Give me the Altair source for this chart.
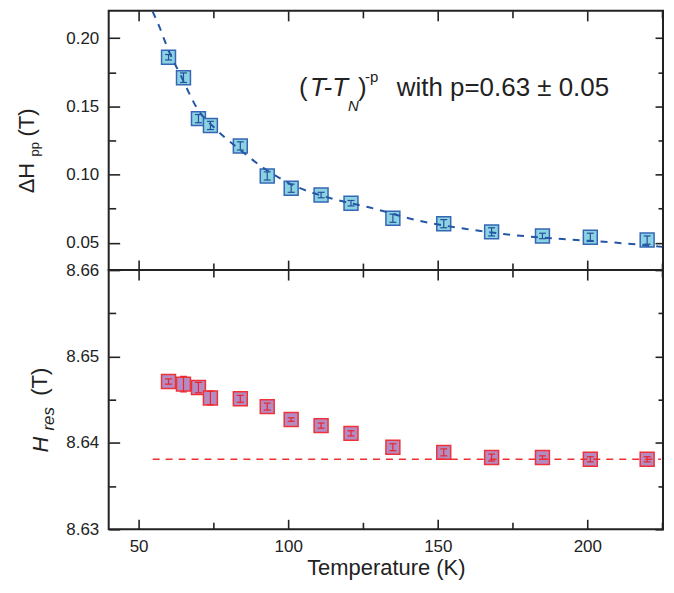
import altair as alt
import pandas as pd

FONT = "Liberation Sans"
INK = "#222222"

# ---------------- data ----------------
temperature = [60, 65, 70, 74, 84, 93, 101, 111, 121, 135, 152, 168, 185, 201, 220]
dhpp = [0.186, 0.171, 0.141, 0.136, 0.121, 0.099, 0.090, 0.085, 0.079, 0.068,
        0.064, 0.058, 0.055, 0.054, 0.052]
dhpp_err = [0.002, 0.0035, 0.003, 0.003, 0.003, 0.003, 0.003, 0.002, 0.002, 0.003,
            0.003, 0.003, 0.002, 0.003, 0.003]
hres = [8.6471, 8.6468, 8.6464, 8.6452, 8.6451, 8.6442, 8.6427, 8.6420, 8.6411, 8.6395,
        8.6389, 8.6383, 8.6383, 8.6381, 8.6381]
hres_err = [0.0003, 0.0009, 0.0006, 0.0008, 0.0004, 0.0004, 0.0002, 0.0003, 0.0003, 0.0004,
            0.0004, 0.0004, 0.0002, 0.0003, 0.0003]

fit_temperature = [54.7, 57, 60, 64, 70, 75, 84, 93, 100, 117, 127, 144, 160, 176, 190, 210, 225]
fit_dhpp = [0.2195, 0.208, 0.191, 0.173, 0.147, 0.135, 0.118, 0.103, 0.094, 0.081, 0.076,
            0.066, 0.060, 0.0555, 0.053, 0.050, 0.047]

base_temperature = [54.7, 224.6]
base_hres = [8.6381, 8.6381]

x_major = [50, 100, 150, 200]
x_minor = [75, 125, 175, 225]
dh_major = [0.05, 0.10, 0.15, 0.20]
dh_minor = [0.075, 0.125, 0.175]
hres_major = [8.63, 8.64, 8.65, 8.66]
hres_minor = [8.635, 8.645, 8.655]

x_domain = [40, 225.3]
dh_domain = [0.03, 0.22]
hres_domain = [8.63, 8.66]

# ---------------- tables ----------------
pts = pd.DataFrame({
    "T": temperature,
    "dH": dhpp,
    "dH_lo": [v - e for v, e in zip(dhpp, dhpp_err)],
    "dH_hi": [v + e for v, e in zip(dhpp, dhpp_err)],
    "Hr": hres,
    "Hr_lo": [v - e for v, e in zip(hres, hres_err)],
    "Hr_hi": [v + e for v, e in zip(hres, hres_err)],
})
fit = pd.DataFrame({"T": fit_temperature, "v": fit_dhpp})
base = pd.DataFrame({"T": base_temperature, "v": base_hres})

W, H = 556, 260


def ticks_axis(orient, values, size, offset):
    """Tick-only axis, moved onto the opposite edge so that ticks point inwards."""
    return alt.Axis(orient=orient, values=values, offset=offset, domain=False, grid=False,
                    labels=False, ticks=True, tickSize=size, tickColor=INK, tickWidth=1.6,
                    title=None, zindex=1)


def label_axis(orient, values, fmt, pad, title=None):
    kw = dict(orient=orient, values=values, domain=False, grid=False, ticks=False,
              labels=True, labelFlush=False, labelOverlap=False, labelPadding=pad,
              labelFont=FONT, labelFontSize=17, labelColor=INK, format=fmt)
    if title:
        kw.update(title=title, titleFont=FONT, titleFontSize=22, titleFontWeight="normal",
                  titleColor=INK, titlePadding=3)
    else:
        kw["title"] = None
    return alt.Axis(**kw)


def txt(s, x, y, size, italic=False, angle=0):
    return alt.Chart(pd.DataFrame({"a": [0]})).mark_text(
        text=s, font=FONT, fontSize=size, fontStyle="italic" if italic else "normal",
        align="left", baseline="alphabetic", angle=angle, color=INK,
    ).encode(x=alt.value(x), y=alt.value(y))


xs = alt.Scale(domain=x_domain, nice=False, zero=False)
ds = alt.Scale(domain=dh_domain, nice=False, zero=False)
hs = alt.Scale(domain=hres_domain, nice=False, zero=False)


def panel(ycol, ylo, yhi, yscale, y_major, y_minor, fill, stroke, errc, line_df, line_kw,
          x_labels, texts):
    xa_bottom_major = ticks_axis("top", x_major, 10, -H)
    xa_bottom_minor = ticks_axis("top", x_minor, 7, -H)
    xa_top_major = ticks_axis("bottom", x_major, 10, -H)
    xa_top_minor = ticks_axis("bottom", x_minor, 7, -H)
    xa_labels = label_axis("bottom", x_major, "d", 9, title="Temperature (K)") if x_labels else None
    ya_labels = label_axis("left", y_major, ".2f", 10)
    ya_left_major = ticks_axis("right", y_major, 11, -W)
    ya_left_minor = ticks_axis("right", y_minor, 7, -W)
    ya_right_major = ticks_axis("left", y_major, 8, -W)
    ya_right_minor = ticks_axis("left", y_minor, 5, -W)

    sq = alt.Chart(pts).mark_square(
        size=195, fill=fill, stroke=stroke, strokeWidth=1.5, opacity=1
    ).encode(
        x=alt.X("T:Q", scale=xs, axis=xa_bottom_major),
        y=alt.Y(f"{ycol}:Q", scale=yscale, axis=ya_labels),
    )
    err = alt.Chart(pts).mark_rule(color=errc, strokeWidth=1.2).encode(
        x=alt.X("T:Q", scale=xs, axis=xa_bottom_minor),
        y=alt.Y(f"{ylo}:Q", scale=yscale, axis=ya_left_major), y2=f"{yhi}:Q")
    cap_lo = alt.Chart(pts).mark_tick(orient="horizontal", color=errc, size=7,
                                      thickness=1.2, opacity=1).encode(
        x=alt.X("T:Q", scale=xs, axis=xa_top_major),
        y=alt.Y(f"{ylo}:Q", scale=yscale, axis=ya_left_minor))
    cap_hi = alt.Chart(pts).mark_tick(orient="horizontal", color=errc, size=7,
                                      thickness=1.2, opacity=1).encode(
        x=alt.X("T:Q", scale=xs, axis=xa_top_minor),
        y=alt.Y(f"{yhi}:Q", scale=yscale, axis=ya_right_major))
    line = alt.Chart(line_df).mark_line(**line_kw).encode(
        x=alt.X("T:Q", scale=xs, axis=xa_labels),
        y=alt.Y("v:Q", scale=yscale, axis=ya_right_minor),
    )
    return alt.layer(sq, err, cap_lo, cap_hi, line, *texts).resolve_axis(
        x="independent", y="independent").properties(width=W, height=H)


top_texts = [
    txt("(", 191, 85, 26),
    txt("T-T", 202, 85, 26, italic=True),
    txt("N", 240, 100, 15, italic=True),
    txt(")", 250, 85, 26),
    txt("-p", 257, 71, 15),
    txt("with p=0.63 \u00b1 0.05", 289, 85, 26),
    txt("\u0394H", -75, 183, 22, angle=270),
    txt("pp", -70, 146, 13, angle=270),
    txt("(T)", -75, 126, 22, angle=270),
]
bot_texts = [
    txt("H", -61, 183, 22, italic=True, angle=270),
    txt("res", -55, 161, 17, italic=True, angle=270),
    txt("(T)", -62, 126, 22, angle=270),
]

top = panel("dH", "dH_lo", "dH_hi", ds, dh_major, dh_minor, "#8bd2e2", "#3567b5", "#27509a",
            fit, dict(color="#2456a6", strokeWidth=2, strokeDash=[7, 7],
                      interpolate="monotone", clip=True),
            False, top_texts)
bottom = panel("Hr", "Hr_lo", "Hr_hi", hs, hres_major, hres_minor, "#b58bc4", "#ee3338",
               "#e8262b", base, dict(color="#f03030", strokeWidth=1.6, strokeDash=[7, 6]),
               True, bot_texts)

chart = alt.vconcat(top, bottom, spacing=0, bounds="flush").configure_view(
    stroke=INK, strokeWidth=2
).properties(padding={"left": 7, "top": 0, "right": 0, "bottom": 0})

chart.save("out.html", embed_options={"renderer": "svg", "actions": False})
